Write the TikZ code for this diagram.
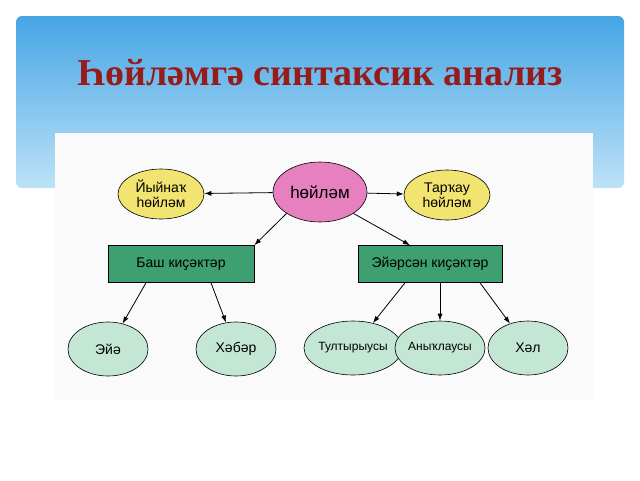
\documentclass[tikz,border=0pt]{standalone}
\usepackage{fontspec}
\setmainfont{Liberation Sans}
\newfontfamily\titlefont{Liberation Serif}
\usetikzlibrary{shapes.geometric,arrows.meta}
\definecolor{bannertop}{RGB}{70,165,228}
\definecolor{bannerbot}{RGB}{190,226,248}
\definecolor{titlered}{RGB}{150,28,28}
\definecolor{pinkfill}{RGB}{230,128,190}
\definecolor{yellowfill}{RGB}{242,228,112}
\definecolor{greenfill}{RGB}{62,160,112}
\definecolor{tealfill}{RGB}{196,230,212}
\begin{document}
\begin{tikzpicture}[x=1pt,y=-1pt,
  oval/.style={ellipse,draw=black,line width=0.6pt,inner sep=0pt,font=\fontsize{14}{15}\selectfont,align=center},
  partbox/.style={rectangle,draw=black,line width=0.6pt,fill=greenfill,minimum height=37pt,font=\fontsize{14}{15}\selectfont},
  link/.style={-{Latex[length=7pt,width=5pt]},line width=0.8pt}]
\useasboundingbox (0,0) rectangle (640,480);
\fill[white] (0,0) rectangle (640,480);
% banner
\shade[top color=bannertop,bottom color=bannerbot,rounded corners=6pt] (16,16) rectangle (624,188);
\node (title) at (320,73) {\titlefont\bfseries\fontsize{38}{40}\selectfont\color{titlered}Һөйләмгә синтаксик анализ};
% picture area
\fill[white!96!gray] (55,133) rectangle (593,400);
% nodes
\node[oval,fill=pinkfill,minimum width=94pt,minimum height=60pt] (main) at (320,192) {\fontsize{17}{18}\selectfont һөйләм};
\node[oval,fill=yellowfill,minimum width=86pt,minimum height=50pt] (left) at (161,194) {Йыйнаҡ\\һөйләм};
\node[oval,fill=yellowfill,minimum width=86pt,minimum height=50pt] (right) at (447,195) {Тарҡау\\һөйләм};
\node[partbox,minimum width=146pt] (bash) at (181,264) {Баш киҫәктәр};
\node[partbox,minimum width=144pt,inner xsep=2pt] (eyar) at (430,264) {Эйәрсән киҫәктәр};
\node[oval,fill=tealfill,minimum width=80pt,minimum height=54pt] (eya) at (108,349) {Эйә};
\node[oval,fill=tealfill,minimum width=80pt,minimum height=54pt] (haber) at (236,349) {Хәбәр};
\node[oval,fill=tealfill,minimum width=82pt,minimum height=54pt,font=\fontsize{12}{13}\selectfont] (tult) at (353,348) {Тултырыусы};
\node[oval,fill=tealfill,minimum width=80pt,minimum height=54pt,font=\fontsize{12}{13}\selectfont] (anyk) at (440,348) {Аныҡлаусы};
\node[oval,fill=tealfill,minimum width=80pt,minimum height=54pt] (hal) at (528,348) {Хәл};
% links
\draw[link] (main) -- (left);
\draw[link] (main) -- (right);
\draw[link] (main.south west) -- (bash.north east);
\draw[link] (main.south east) -- ([xshift=-20pt]eyar.north);
\draw[link] ([xshift=-35pt]bash.south) -- (eya);
\draw[link] ([xshift=30pt]bash.south) -- (haber);
\draw[link] ([xshift=-25pt]eyar.south) -- (tult);
\draw[link] ([xshift=10pt]eyar.south) -- (anyk);
\draw[link] ([xshift=50pt]eyar.south) -- (hal);
\end{tikzpicture}
\end{document}
